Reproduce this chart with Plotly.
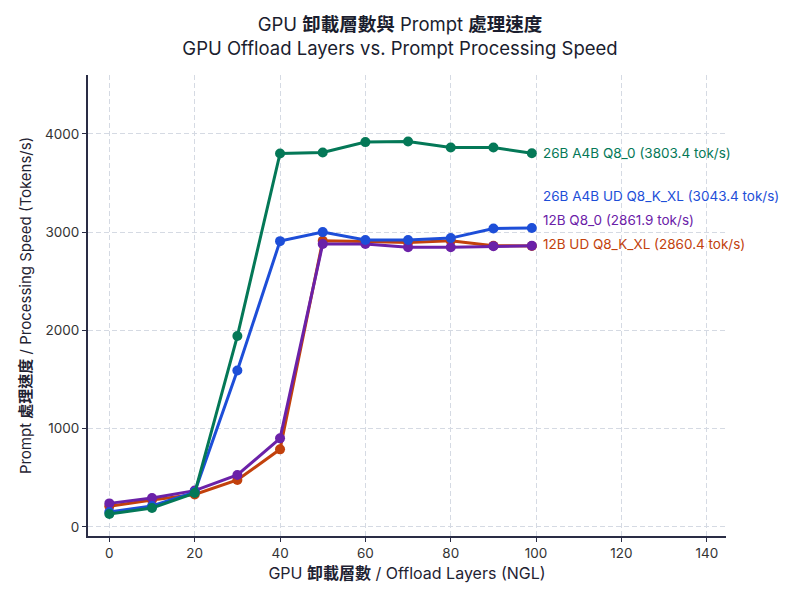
import plotly.graph_objects as go

ngl = [0, 10, 20, 30, 40, 50, 60, 70, 80, 90, 99]

series_names = ["12B UD Q8_K_XL", "12B Q8_0", "26B A4B UD Q8_K_XL", "26B A4B Q8_0"]
orange_vals = [210, 275, 330, 478, 790, 2912, 2905, 2895, 2912, 2862, 2860.4]
purple_vals = [240, 295, 370, 529, 902, 2880, 2880, 2846, 2846, 2858, 2861.9]
blue_vals = [153, 213, 355, 1592, 2909, 3001, 2920, 2920, 2940, 3038, 3043.4]
green_vals = [132, 193, 345, 1943, 3801, 3811, 3917, 3924, 3862, 3862, 3803.4]

colors = ["#c2410c", "#6b21a8", "#1d4ed8", "#047857"]
label_shift = [2, 26, 32, 0]
all_vals = [orange_vals, purple_vals, blue_vals, green_vals]

FONT = "Inter, Noto Sans CJK TC, sans-serif"
fig = go.Figure()
for name, vals, col in zip(series_names, all_vals, colors):
    fig.add_trace(go.Scatter(
        x=ngl, y=vals, mode="lines+markers", name=name,
        line=dict(color=col, width=3), marker=dict(color=col, size=10),
        showlegend=False))

for name, vals, col, sh in zip(series_names, all_vals, colors, label_shift):
    fig.add_annotation(
        x=ngl[-1], y=vals[-1], text=f"{name} ({vals[-1]:.1f} tok/s)",
        showarrow=False, xanchor="left", yanchor="middle", xshift=9, yshift=sh,
        font=dict(family=FONT, size=13.5, color=col))

fig.update_layout(
    width=800, height=600,
    margin=dict(l=88, r=74, t=75, b=64),
    plot_bgcolor="white", paper_bgcolor="white",
    font=dict(family=FONT, color="#1f2333"),
    title=dict(
        text="GPU <b>卸載層數與</b> Prompt <b>處理速度</b><br>GPU Offload Layers vs. Prompt Processing Speed",
        x=0.5, xanchor="center", y=0.948, yanchor="top",
        font=dict(family=FONT, size=18.5, color="#1a1d2e")),
    xaxis=dict(
        range=[-5, 144.5], tickvals=[0, 20, 40, 60, 80, 100, 120, 140],
        showgrid=True, gridcolor="#d5dae3", griddash="5px,3px", gridwidth=1,
        zeroline=False, showline=True, linecolor="#2a2d45", linewidth=2,
        ticks="outside", ticklen=4, tickcolor="#2a2d45",
        tickfont=dict(size=13.5, color="#333"),
        title=dict(text="GPU <b>卸載層數</b> / Offload Layers (NGL)", font=dict(size=16), standoff=8)),
    yaxis=dict(
        range=[-92, 4600], tickvals=[0, 1000, 2000, 3000, 4000],
        showgrid=True, gridcolor="#d5dae3", griddash="5px,3px", gridwidth=1,
        zeroline=False, showline=True, linecolor="#2a2d45", linewidth=2,
        ticks="outside", ticklen=4, tickcolor="#2a2d45",
        tickfont=dict(size=13.5, color="#333"),
        title=dict(text="Prompt <b>處理速度</b> / Processing Speed (Tokens/s)", font=dict(size=15), standoff=10)),
)

fig.write_html("out.html")
